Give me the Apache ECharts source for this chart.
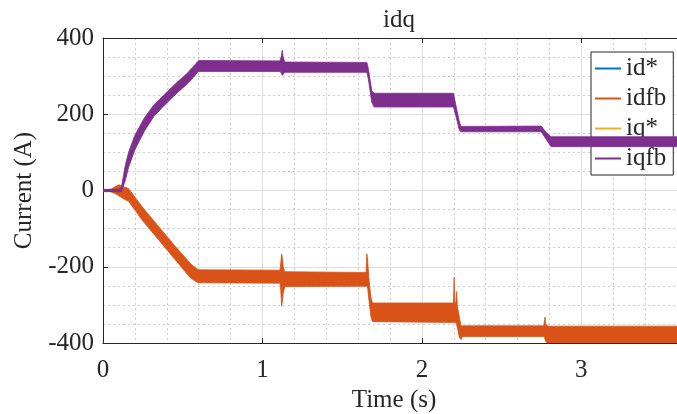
<!DOCTYPE html>
<html>
<head>
<meta charset="utf-8">
<script src="https://cdn.jsdelivr.net/npm/echarts@6/dist/echarts.min.js"></script>
<style>
  html, body { margin: 0; padding: 0; background: #ffffff; }
  #chart { width: 677px; height: 414px; }
</style>
</head>
<body>
<div id="chart"></div>
<script>
// Current references (setpoints), [time s, current A]
const idRef = [
  [0, 0], [0.12, -5], [0.595, -225], [1.655, -228], [1.69, -320],
  [2.2, -320], [2.245, -369], [2.76, -369], [2.8, -378], [3.65, -378]
];
const iqRef = [
  [0, 0], [0.115, 0], [0.14, 45], [0.16, 80], [0.2, 125], [0.26, 174],
  [0.32, 210], [0.37, 231], [0.42, 252], [0.47, 272], [0.53, 294], [0.6, 326],
  [1.655, 323], [1.695, 237], [2.198, 237], [2.243, 161], [2.75, 162],
  [2.81, 128], [3.65, 128]
];

// Measured feedback ripple envelopes, [time s, upper A, lower A]
const idFbEnvelope = [
  [0, 2, -2], [0.05, 3, -3], [0.075, 10, -8], [0.10, 15, -14], [0.13, 10, -22],
  [0.16, 5, -28], [0.25, -45, -80], [0.35, -95, -130], [0.45, -145, -180],
  [0.55, -192, -230], [0.595, -208, -242], [1.11, -209, -243],
  [1.115, -190, -262], [1.12, -166, -304], [1.125, -176, -292],
  [1.13, -200, -270], [1.14, -213, -252], [1.65, -215, -251],
  [1.655, -166, -251], [1.66, -185, -256], [1.667, -228, -285],
  [1.68, -280, -330], [1.69, -295, -344], [2.198, -295, -346],
  [2.202, -227, -346], [2.207, -292, -346], [2.214, -296, -346],
  [2.218, -265, -352], [2.222, -302, -360], [2.235, -332, -385],
  [2.245, -355, -391], [2.255, -355, -383], [2.765, -355, -383],
  [2.769, -340, -386], [2.772, -332, -390], [2.776, -350, -395],
  [2.79, -356, -402], [3.65, -356, -402]
];
const iqFbEnvelope = [
  [0, 3, -3], [0.1, 3, -3], [0.115, 8, -3], [0.14, 66, 26], [0.16, 100, 60],
  [0.2, 145, 107], [0.26, 191, 156], [0.32, 225, 195], [0.37, 245, 217],
  [0.42, 266, 238], [0.47, 286, 258], [0.53, 308, 280], [0.6, 341, 312],
  [1.11, 340, 312], [1.118, 352, 308], [1.124, 368, 302], [1.13, 350, 304],
  [1.14, 337, 310], [1.655, 336, 310], [1.665, 318, 290], [1.685, 262, 232],
  [1.70, 255, 219], [2.198, 255, 219], [2.215, 220, 192], [2.235, 180, 158],
  [2.245, 168, 154], [2.748, 169, 154], [2.78, 152, 134], [2.81, 141, 115],
  [3.65, 141, 115]
];

const seriesNames = ['id*', 'idfb', 'iq*', 'iqfb'];
const seriesColors = ['#0072BD', '#D95319', '#EDB120', '#7E2F8E'];
const yTicks = [-400, -200, 0, 200, 400];
const xTicks = [0, 1, 2, 3];

const FONT = '"Liberation Serif", "Times New Roman", serif';
const INK = '#262626';

// Filled ripple band between the upper and lower envelope, on the chart's own scales
function bandSeries(name, rows, color, z) {
  return {
    name: name,
    type: 'custom',
    z: z,
    data: rows,
    encode: { x: 0, y: [1, 2] },
    itemStyle: { color: color },
    renderItem: function (params, api) {
      if (params.dataIndex !== 0) return null;
      const upper = rows.map(function (r) { return api.coord([r[0], r[1]]); });
      const lower = rows.map(function (r) { return api.coord([r[0], r[2]]); }).reverse();
      const cs = params.coordSys;
      return {
        type: 'polygon',
        shape: { points: upper.concat(lower) },
        style: { fill: color, stroke: color, lineWidth: 0.8 },
        clipPath: { type: 'rect', shape: { x: cs.x, y: cs.y, width: cs.width, height: cs.height } }
      };
    }
  };
}

function refSeries(name, data, color, z) {
  return {
    name: name,
    type: 'line',
    z: z,
    data: data,
    symbol: 'none',
    showSymbol: false,
    lineStyle: { color: color, width: 1.5 },
    itemStyle: { color: color },
    clip: true
  };
}

const chart = echarts.init(document.getElementById('chart'), null, { renderer: 'canvas' });

chart.setOption({
  animation: false,
  backgroundColor: '#ffffff',
  color: seriesColors,
  textStyle: { fontFamily: FONT, color: INK },
  title: {
    text: 'idq',
    left: 394,
    top: 3,
    textAlign: 'center',
    textStyle: { fontFamily: FONT, fontSize: 25, fontWeight: 'normal', color: INK }
  },
  grid: {
    left: 103, top: 38, width: 582, height: 305,
    containLabel: false,
    outerBoundsMode: 'none'
  },
  legend: {
    data: seriesNames,
    orient: 'vertical',
    left: 591,
    top: 52,
    icon: 'rect',
    itemWidth: 26,
    itemHeight: 2,
    itemGap: 5,
    padding: [4, 7, 4, 4],
    borderColor: INK,
    borderWidth: 1,
    backgroundColor: '#ffffff',
    textStyle: { fontFamily: FONT, fontSize: 25, lineHeight: 25, color: INK }
  },
  xAxis: [
    {
      type: 'value',
      position: 'bottom',
      min: 0,
      max: 3.65,
      interval: 1,
      name: 'Time (s)',
      nameLocation: 'middle',
      nameGap: 45,
      nameTextStyle: { fontFamily: FONT, fontSize: 25, color: INK },
      axisLine: { show: true, onZero: false, lineStyle: { color: INK, width: 1 } },
      axisTick: { show: true, inside: true, length: 5, lineStyle: { color: INK } },
      axisLabel: {
        show: true, margin: 15, fontFamily: FONT, fontSize: 25, color: INK,
        showMaxLabel: false,
        formatter: function (v) { return xTicks.indexOf(v) >= 0 ? String(v) : ''; }
      },
      splitLine: { show: true, lineStyle: { color: '#dedede', width: 1 } },
      minorTick: { show: false, splitNumber: 5 },
      minorSplitLine: { show: true, lineStyle: { color: '#cccccc', width: 1, type: [2, 3] } }
    },
    {
      type: 'value',
      position: 'top',
      min: 0,
      max: 3.65,
      interval: 1,
      axisLine: { show: true, onZero: false, lineStyle: { color: INK, width: 1 } },
      axisTick: { show: true, inside: true, length: 5, lineStyle: { color: INK } },
      axisLabel: { show: false },
      splitLine: { show: false }
    }
  ],
  yAxis: {
    type: 'value',
    min: yTicks[0],
    max: yTicks[yTicks.length - 1],
    interval: 200,
    name: 'Current (A)',
    nameLocation: 'middle',
    nameGap: 64,
    nameTextStyle: { fontFamily: FONT, fontSize: 25, color: INK },
    axisLine: { show: true, onZero: false, lineStyle: { color: INK, width: 1 } },
    axisTick: { show: true, inside: true, length: 5, lineStyle: { color: INK } },
    axisLabel: { show: true, margin: 9, fontFamily: FONT, fontSize: 25, color: INK },
    splitLine: { show: true, lineStyle: { color: '#dedede', width: 1 } },
    minorTick: { show: false, splitNumber: 4 },
    minorSplitLine: { show: true, lineStyle: { color: '#cccccc', width: 1, type: [2, 3] } }
  },
  series: [
    refSeries(seriesNames[0], idRef, seriesColors[0], 2),
    bandSeries(seriesNames[1], idFbEnvelope, seriesColors[1], 3),
    refSeries(seriesNames[2], iqRef, seriesColors[2], 4),
    bandSeries(seriesNames[3], iqFbEnvelope, seriesColors[3], 5)
  ]
});
</script>
</body>
</html>
